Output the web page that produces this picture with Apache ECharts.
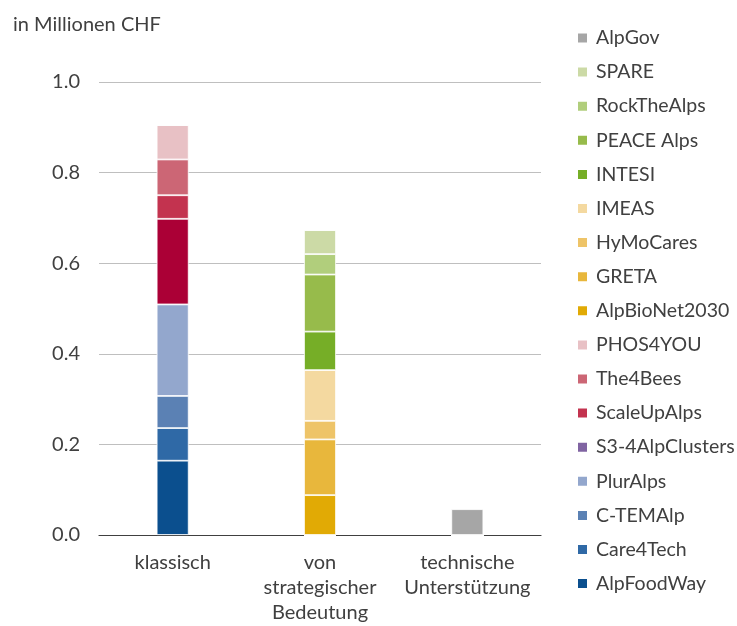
<!DOCTYPE html>
<html>
<head>
<meta charset="utf-8">
<script src="https://cdn.jsdelivr.net/npm/echarts@6/dist/echarts.min.js"></script>
<style>
  html, body { margin: 0; padding: 0; background: #fff; }
  #chart { width: 737px; height: 626px; }
</style>
</head>
<body>
<div id="chart"></div>
<script>
// Funding per project type, in million CHF
const categories = ['klassisch', 'von\nstrategischer\nBedeutung', 'technische\nUnterstützung'];
const yTicks = [0, 0.2, 0.4, 0.6, 0.8, 1.0];

// one array per project: [klassisch, strategisch, technisch]
const AlpFoodWay      = [0.164, 0, 0];
const Care4Tech       = [0.072, 0, 0];
const CTEMAlp         = [0.071, 0, 0];
const PlurAlps        = [0.202, 0, 0];
const S34AlpClusters  = [0.189, 0, 0];
const ScaleUpAlps     = [0.052, 0, 0];
const The4Bees        = [0.079, 0, 0];
const PHOS4YOU        = [0.076, 0, 0];
const AlpBioNet2030   = [0, 0.088, 0];
const GRETA           = [0, 0.123, 0];
const HyMoCares       = [0, 0.041, 0];
const IMEAS           = [0, 0.112, 0];
const INTESI          = [0, 0.085, 0];
const PEACEAlps       = [0, 0.126, 0];
const RockTheAlps     = [0, 0.045, 0];
const SPARE           = [0, 0.053, 0];
const AlpGov          = [0, 0, 0.057];

const projects = [
  { name: 'AlpFoodWay',      data: AlpFoodWay,     color: '#0b4f8e' },
  { name: 'Care4Tech',       data: Care4Tech,      color: '#2f69a6' },
  { name: 'C-TEMAlp',        data: CTEMAlp,        color: '#5b81b4' },
  { name: 'PlurAlps',        data: PlurAlps,       color: '#93a7cd' },
  { name: 'S3-4AlpClusters', data: S34AlpClusters, color: '#8064a2', barColor: '#ab0036' },
  { name: 'ScaleUpAlps',     data: ScaleUpAlps,    color: '#c3334f' },
  { name: 'The4Bees',        data: The4Bees,       color: '#cc6675' },
  { name: 'PHOS4YOU',        data: PHOS4YOU,       color: '#e8c1c5' },
  { name: 'AlpBioNet2030',   data: AlpBioNet2030,  color: '#e1aa05' },
  { name: 'GRETA',           data: GRETA,          color: '#e8b73c' },
  { name: 'HyMoCares',       data: HyMoCares,      color: '#eec468' },
  { name: 'IMEAS',           data: IMEAS,          color: '#f4d9a0' },
  { name: 'INTESI',          data: INTESI,         color: '#76ae27' },
  { name: 'PEACE Alps',      data: PEACEAlps,      color: '#97bb4b' },
  { name: 'RockTheAlps',     data: RockTheAlps,    color: '#b1ce7c' },
  { name: 'SPARE',           data: SPARE,          color: '#ccdaa6' },
  { name: 'AlpGov',          data: AlpGov,         color: '#a6a6a6' }
];

const FONT = 'Lato, "Open Sans", sans-serif';

const chart = echarts.init(document.getElementById('chart'), null, { renderer: 'canvas' });

const series = projects.map(p => ({
  name: p.name,
  type: 'bar',
  stack: 'total',
  barWidth: 32,
  itemStyle: { color: p.color, borderColor: '#ffffff', borderWidth: 0.8 },
  data: p.data.map(v => (p.barColor ? { value: v, itemStyle: { color: p.barColor } } : v))
}));

chart.setOption({
  animation: false,
  backgroundColor: '#ffffff',
  title: {
    text: 'in Millionen CHF',
    left: 8,
    top: 8,
    textStyle: { fontFamily: FONT, fontSize: 20, fontWeight: 'normal', color: '#404040', lineHeight: 24 }
  },
  legend: {
    orient: 'vertical',
    left: 576,
    top: 28,
    icon: 'rect',
    itemWidth: 11,
    itemHeight: 11,
    itemGap: 14.1,
    padding: 0,
    data: projects.map(p => p.name).reverse(),
    textStyle: { fontFamily: FONT, fontSize: 19.5, color: '#404040', lineHeight: 20, padding: [0, 0, 0, 3] }
  },
  grid: { left: 99, right: 196, top: 82, bottom: 91, containLabel: false },
  xAxis: {
    type: 'category',
    data: categories,
    axisTick: { show: false },
    axisLine: { lineStyle: { color: '#404040', width: 1.2 } },
    axisLabel: {
      interval: 0,
      margin: 15,
      fontFamily: FONT,
      fontSize: 20,
      color: '#404040',
      lineHeight: 25
    }
  },
  yAxis: {
    type: 'value',
    min: yTicks[0],
    max: yTicks[yTicks.length - 1],
    interval: 0.2,
    axisLine: { show: false },
    axisTick: { show: false },
    splitLine: { lineStyle: { color: '#bfbfbf', width: 1 } },
    axisLabel: {
      margin: 19,
      fontFamily: FONT,
      fontSize: 20,
      color: '#404040',
      formatter: v => v.toFixed(1)
    }
  },
  series: series
});
</script>
</body>
</html>
